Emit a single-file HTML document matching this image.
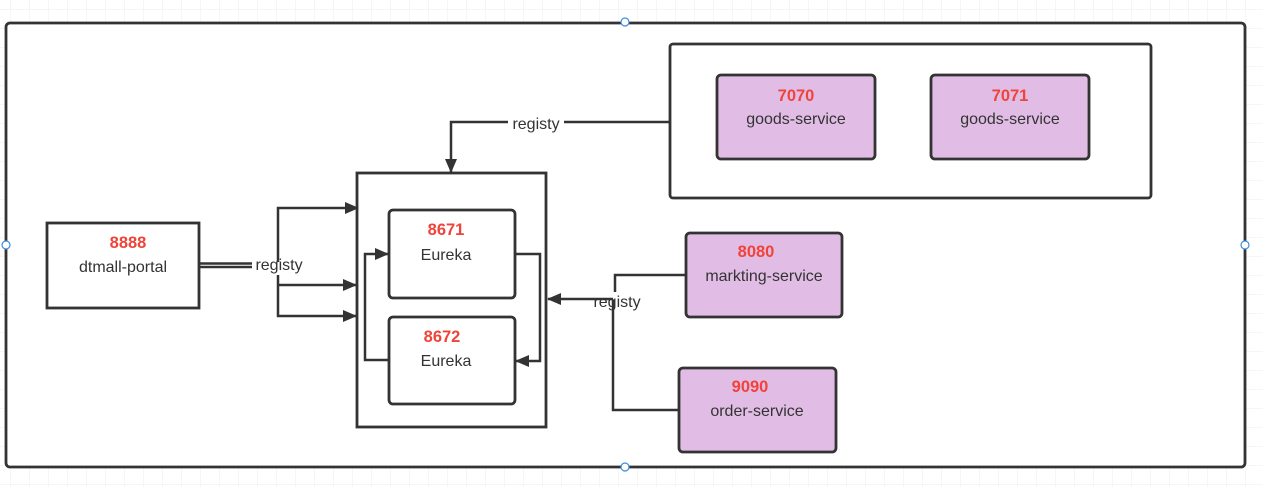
<!DOCTYPE html>
<html><head><meta charset="utf-8"><style>
html,body{margin:0;padding:0;background:#fff;width:1263px;height:487px;overflow:hidden}
svg{display:block}
text{font-family:"Liberation Sans",sans-serif}
.n{fill:#f0433a;font-weight:bold;font-size:16.5px;text-anchor:middle}
.l{fill:#333;font-size:16px;text-anchor:middle}
.b{stroke:#333;stroke-width:2.8;fill:none}
.p{stroke:#333;stroke-width:2.8;fill:#e1bde6}
.c{stroke:#333;stroke-width:2.5;fill:none}
</style></head><body>
<svg width="1263" height="487" viewBox="0 0 1263 487" xmlns="http://www.w3.org/2000/svg">
<defs>
<pattern id="g" width="19" height="19" patternUnits="userSpaceOnUse" x="11" y="10">
<path d="M19 0V19M0 19H19" stroke="#ececec" stroke-width="1" fill="none"/>
</pattern>
<marker id="a" markerWidth="14" markerHeight="12" refX="13" refY="6" orient="auto" markerUnits="userSpaceOnUse" viewBox="0 0 14 12">
<path d="M0,0 L14,6 L0,12 Z" fill="#333"/>
</marker>
</defs>
<rect width="1263" height="487" fill="url(#g)"/>
<rect x="6" y="23" width="1239" height="444" rx="4" fill="#fff" stroke="#333" stroke-width="2.8"/>

<rect x="670" y="44" width="481" height="154" rx="3" class="b"/>
<rect x="717" y="75" width="158" height="84" rx="4" class="p"/>
<text x="796" y="101" class="n">7070</text><text x="796" y="124" class="l">goods-service</text>
<rect x="931" y="75" width="158" height="84" rx="4" class="p"/>
<text x="1010" y="101" class="n">7071</text><text x="1010" y="124" class="l">goods-service</text>

<path d="M670 122H451V172" class="c" marker-end="url(#a)"/>
<rect x="508" y="113" width="56" height="20" fill="#fff"/>
<text x="536" y="129" class="l">registy</text>

<rect x="357" y="173" width="189" height="254" class="b"/>
<rect x="389" y="210" width="126" height="88" rx="4" class="b"/>
<text x="446" y="235" class="n">8671</text><text x="446" y="260" class="l">Eureka</text>
<rect x="389" y="317" width="126" height="87" rx="4" class="b"/>
<text x="442" y="342" class="n">8672</text><text x="446" y="366" class="l">Eureka</text>
<path d="M515 254H540V361H516" class="c" marker-end="url(#a)"/>
<path d="M389 360H365V254H388" class="c" marker-end="url(#a)"/>

<rect x="47" y="223" width="152" height="85" class="b"/>
<text x="128" y="248" class="n">8888</text><text x="123" y="272" class="l">dtmall-portal</text>
<path d="M199 263.5H252M199 267H252" stroke="#333" stroke-width="2.5" fill="none"/>
<path d="M278 262V208H358" class="c" marker-end="url(#a)"/>
<path d="M278 275V316H356" class="c" marker-end="url(#a)"/>
<path d="M278 285H356" class="c" marker-end="url(#a)"/>
<text x="279" y="270" class="l">registy</text>

<rect x="686" y="233" width="156" height="84" rx="4" class="p"/>
<text x="756" y="257" class="n">8080</text><text x="764" y="281" class="l">markting-service</text>
<rect x="679" y="368" width="157" height="84" rx="4" class="p"/>
<text x="750" y="392" class="n">9090</text><text x="757" y="416" class="l">order-service</text>
<path d="M686 275H615V292" class="c"/>
<path d="M679 410H613V300" class="c"/>
<path d="M613 299H548" class="c" marker-end="url(#a)" stroke-width="3"/>
<text x="617" y="307" class="l">registy</text>

<g fill="#fff" stroke="#3b8de0" stroke-width="1.2">
<circle cx="625" cy="22" r="4"/><circle cx="625" cy="467" r="4"/>
<circle cx="6" cy="245" r="4"/><circle cx="1245" cy="245" r="4"/>
</g>
</svg>
</body></html>
